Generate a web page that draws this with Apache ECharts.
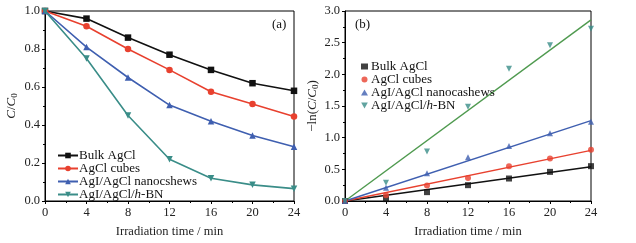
<!DOCTYPE html>
<html>
<head>
<meta charset="utf-8">
<script src="https://cdn.jsdelivr.net/npm/echarts@6/dist/echarts.min.js"></script>
<style>
  html, body { margin: 0; padding: 0; background: #fff; }
  #main { width: 636px; height: 243px; }
</style>
</head>
<body>
<div id="main"></div>
<script>
// temps d'irradiation (min)
const times = [0, 4, 8, 12, 16, 20, 24];

// (a) C/C0
const bulkA = [1.0, 0.96, 0.86, 0.77, 0.69, 0.62, 0.58];
const cubesA = [1.0, 0.92, 0.80, 0.69, 0.575, 0.51, 0.445];
const cashewsA = [1.0, 0.81, 0.65, 0.505, 0.42, 0.345, 0.285];
const hbnA = [1.0, 0.75, 0.45, 0.22, 0.12, 0.085, 0.065];

// (b) -ln(C/C0)
const bulkB = [0, 0.03, 0.14, 0.25, 0.355, 0.46, 0.55];
const cubesB = [0, 0.09, 0.245, 0.365, 0.55, 0.67, 0.81];
const cashewsB = [0, 0.21, 0.44, 0.69, 0.87, 1.07, 1.25];
const hbnB = [0, 0.29, 0.78, 1.49, 2.09, 2.46, 2.72];

// droites d'ajustement : valeur en t = 0 et t = 24
const fitTimes = [0, 24];
const bulkFit = [0, 0.54];
const cubesFit = [0, 0.80];
const cashewsFit = [0, 1.27];
const hbnFit = [0, 2.86];

const namesA = ['Bulk AgCl', 'AgCl cubes', 'AgI/AgCl nanocshews', 'AgI/AgCl/h-BN'];
const namesB = ['Bulk AgCl', 'AgCl cubes', 'AgI/AgCl nanocashews', 'AgI/AgCl/h-BN'];

const colors = ['#111111', '#e8412f', '#3f5fb0', '#3a8d88'];
const fitColors = ['#111111', '#e8412f', '#3f5fb0', '#4f9a4f'];
const symbols = ['rect', 'circle', 'triangle', 'path://M0,0 L10,0 L5,9 Z'];

const serif = 'Liberation Serif';

function pairs(xs, ys) {
  return xs.map((x, i) => [x, ys[i]]);
}

// "h" en italique dans h-BN
function legendLabel(name) {
  return name.slice(2).replace('/h-BN', '/{i|h}-BN');
}

const seriesA = [bulkA, cubesA, cashewsA, hbnA];
const seriesB = [bulkB, cubesB, cashewsB, hbnB];
const fits = [bulkFit, cubesFit, cashewsFit, hbnFit];

const series = [];
seriesA.forEach((vals, i) => {
  series.push({
    name: 'a:' + namesA[i],
    type: 'line',
    xAxisIndex: 0,
    yAxisIndex: 0,
    data: pairs(times, vals),
    symbol: symbols[i],
    symbolSize: 6.5,
    showSymbol: true,
    color: colors[i],
    lineStyle: { width: 1.6, color: colors[i] },
    itemStyle: { color: colors[i] },
    z: 2 + i
  });
});
fits.forEach((vals, i) => {
  series.push({
    name: 'fit' + i,
    type: 'line',
    xAxisIndex: 1,
    yAxisIndex: 1,
    data: pairs(fitTimes, vals),
    showSymbol: false,
    symbol: 'none',
    lineStyle: { width: 1.4, color: fitColors[i] },
    z: 2
  });
});
seriesB.forEach((vals, i) => {
  series.push({
    name: 'b:' + namesB[i],
    type: 'scatter',
    xAxisIndex: 1,
    yAxisIndex: 1,
    data: pairs(times, vals),
    symbol: symbols[i],
    symbolSize: 6,
    itemStyle: { color: colors[i] },
    z: 4
  });
});

const axisLabelStyle = { fontFamily: serif, fontSize: 12.5, color: '#222' };

const nameRich = {
  i: { fontFamily: serif, fontSize: 13, fontStyle: 'italic', color: '#222' },
  s: { fontFamily: serif, fontSize: 9, color: '#222', verticalAlign: 'bottom', padding: [6, 0, 0, 0] }
};

const legendText = {
  fontFamily: serif,
  fontSize: 13,
  color: '#111',
  rich: { i: { fontFamily: serif, fontSize: 13, fontStyle: 'italic', color: '#111' } }
};

function xAxis(gridIndex) {
  return {
    type: 'value',
    gridIndex: gridIndex,
    min: 0,
    max: 24,
    interval: 4,
    name: 'Irradiation time / min',
    nameLocation: 'middle',
    nameGap: 24,
    nameTextStyle: { fontFamily: serif, fontSize: 12.5, color: '#222' },
    axisLine: { show: true, lineStyle: { color: '#000', width: 1 } },
    axisTick: { show: true, length: 3, lineStyle: { color: '#000' } },
    minorTick: { show: true, splitNumber: 2, length: 2, lineStyle: { color: '#000' } },
    splitLine: { show: false },
    axisLabel: Object.assign({ margin: 5 }, axisLabelStyle)
  };
}

function yAxis(gridIndex, max, interval, name, gap) {
  return {
    type: 'value',
    gridIndex: gridIndex,
    min: 0,
    max: max,
    interval: interval,
    name: name,
    nameLocation: 'middle',
    nameGap: gap,
    nameRotate: 90,
    nameTextStyle: { fontFamily: serif, fontSize: 13, color: '#222', rich: nameRich },
    axisLine: { show: true, lineStyle: { color: '#000', width: 1 } },
    axisTick: { show: true, length: 3, lineStyle: { color: '#000' } },
    minorTick: { show: true, splitNumber: 2, length: 2, lineStyle: { color: '#000' } },
    splitLine: { show: false },
    axisLabel: Object.assign({ margin: 5, formatter: v => v.toFixed(1) }, axisLabelStyle)
  };
}

const option = {
  animation: false,
  backgroundColor: '#fff',
  grid: [
    { left: 45, top: 11, width: 249, height: 193, show: true, borderColor: '#000', borderWidth: 1 },
    { left: 345, top: 11, width: 246, height: 192, show: true, borderColor: '#000', borderWidth: 1 }
  ],
  xAxis: [xAxis(0), xAxis(1)],
  yAxis: [
    yAxis(0, 1, 0.2, '{i|C}/{i|C}{s|0}', 26),
    yAxis(1, 3, 0.5, '−ln({i|C}/{i|C}{s|0})', 25)
  ],
  legend: [
    {
      orient: 'vertical',
      left: 52,
      top: 144,
      itemGap: 0,
      itemWidth: 20,
      itemHeight: 7,
      data: namesA.map(n => 'a:' + n),
      formatter: legendLabel,
      textStyle: Object.assign({ padding: [0, 0, 0, -4] }, legendText),
      selectedMode: false
    },
    {
      orient: 'vertical',
      left: 356,
      top: 55,
      itemGap: 0,
      itemWidth: 7,
      itemHeight: 6,
      data: namesB.map(n => 'b:' + n),
      formatter: legendLabel,
      textStyle: Object.assign({ padding: [0, 0, 0, -2] }, legendText),
      selectedMode: false
    }
  ],
  graphic: [
    { type: 'text', left: 272, top: 18, style: { text: '(a)', font: '13px "Liberation Serif"', fill: '#111' } },
    { type: 'text', left: 355, top: 18, style: { text: '(b)', font: '13px "Liberation Serif"', fill: '#111' } }
  ],
  series: series
};

const chart = echarts.init(document.getElementById('main'), null, { renderer: 'canvas' });
chart.setOption(option);
</script>
</body>
</html>
